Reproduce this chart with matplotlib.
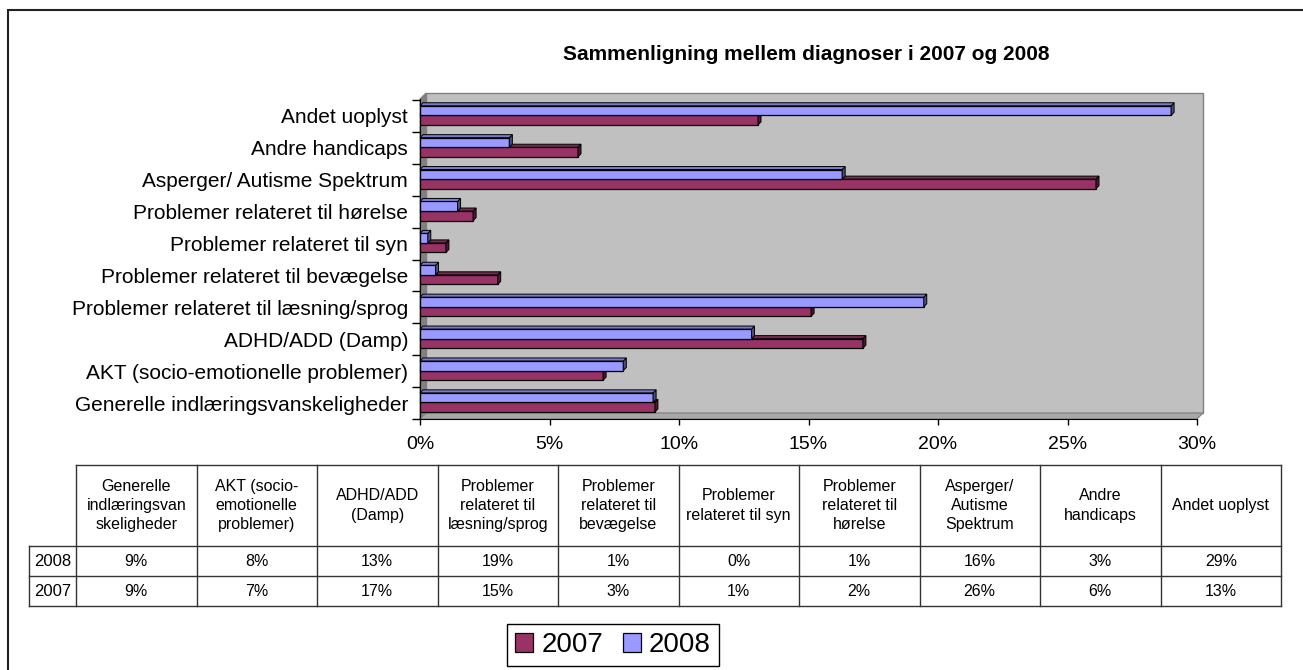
import numpy as np
import matplotlib
matplotlib.use("Agg")
import matplotlib.pyplot as plt
from matplotlib.patches import Polygon

plt.rcParams["font.family"] = ["Liberation Sans", "DejaVu Sans"]

# ================================
# DATA
# ================================

categories = [
    "Generelle indlæringsvanskeligheder",
    "AKT (socio-emotionelle problemer)",
    "ADHD/ADD (Damp)",
    "Problemer relateret til læsning/sprog",
    "Problemer relateret til bevægelse",
    "Problemer relateret til syn",
    "Problemer relateret til hørelse",
    "Asperger/ Autisme Spektrum",
    "Andre handicaps",
    "Andet uoplyst",
]

table_headers = [
    "Generelle\nindlæringsvan\nskeligheder",
    "AKT (socio-\nemotionelle\nproblemer)",
    "ADHD/ADD\n(Damp)",
    "Problemer\nrelateret til\nlæsning/sprog",
    "Problemer\nrelateret til\nbevægelse",
    "Problemer\nrelateret til syn",
    "Problemer\nrelateret til\nhørelse",
    "Asperger/\nAutisme\nSpektrum",
    "Andre\nhandicaps",
    "Andet uoplyst",
]

# percent values
share_2008 = [9.0, 7.85, 12.8, 19.45, 0.6, 0.3, 1.45, 16.3, 3.45, 29.0]
share_2007 = [9.07, 7.07, 17.1, 15.1, 3.0, 1.0, 2.05, 26.1, 6.1, 13.05]

# values printed in the data table
table_2008 = ["9%", "8%", "13%", "19%", "1%", "0%", "1%", "16%", "3%", "29%"]
table_2007 = ["9%", "7%", "17%", "15%", "3%", "1%", "2%", "26%", "6%", "13%"]

x_ticks = [0, 5, 10, 15, 20, 25, 30]

title = "Sammenligning mellem diagnoser i 2007 og 2008"

COL_2007 = "#993366"
COL_2008 = "#9999FF"

# ================================
# FIGURE / CANVAS
# ================================

W, H = 1303, 670
fig = plt.figure(figsize=(W / 100, H / 100), dpi=100)

canvas = fig.add_axes([0, 0, 1, 1])
canvas.set_xlim(0, W)
canvas.set_ylim(H, 0)
canvas.axis("off")

# outer frame (only left and top visible)
canvas.plot([8, 8, W + 5], [H + 5, 10, 10], color="#222222", lw=1.5, solid_joinstyle="miter")

canvas.text(806, 55, title, ha="center", va="center", fontsize=15, fontweight="bold")

# ================================
# CHART
# ================================

X0, X1, YB, YT = 420, 1197, 419, 93
ax = fig.add_axes([X0 / W, 1 - YB / H, (X1 - X0) / W, (YB - YT) / H])
ax.set_facecolor("none")

n = len(categories)
ax.set_xlim(0, 30)
top = n - 0.5 + 7 / 31.9
ax.set_ylim(-0.5, top)

# pseudo 3D walls
dxa = 6 / (X1 - X0)
dya = 6 / (YB - YT)
back = Polygon([(dxa, dya), (1 + dxa, dya), (1 + dxa, 1), (dxa, 1)], closed=True,
               transform=ax.transAxes, facecolor="#C0C0C0", edgecolor="#808080", lw=1,
               clip_on=False, zorder=0)
side = Polygon([(0, 0), (dxa, dya), (dxa, 1), (0, 1 - dya)], closed=True,
               transform=ax.transAxes, facecolor="#808080", edgecolor="#808080", lw=0.8,
               clip_on=False, zorder=0.5)
floor = Polygon([(0, 0), (1, 0), (1 + dxa, dya), (dxa, dya)], closed=True,
                transform=ax.transAxes, facecolor="#A8A8A8", edgecolor="#808080", lw=0.8,
                clip_on=False, zorder=0.5)
for p in (back, side, floor):
    ax.add_patch(p)

y = np.arange(n)
h = 0.3
ddx = 3 / 25.9
ddy = 3 / 31.9


def bar_3d(ax, ypos, vals, front, sidec, topc, z, label):
    bars = ax.barh(ypos, vals, height=h, color=front, edgecolor="black", lw=0.9,
                   zorder=z, label=label)
    for yc, v in zip(ypos, vals):
        yb, yt = yc - h / 2, yc + h / 2
        ax.add_patch(Polygon([(v, yb), (v + ddx, yb + ddy), (v + ddx, yt + ddy), (v, yt)],
                             closed=True, facecolor=sidec, edgecolor="black", lw=0.7,
                             zorder=z, clip_on=False))
        ax.add_patch(Polygon([(0, yt), (ddx, yt + ddy), (v + ddx, yt + ddy), (v, yt)],
                             closed=True, facecolor=topc, edgecolor="black", lw=0.7,
                             zorder=z, clip_on=False))
    return bars


b07 = bar_3d(ax, y - 0.13, share_2007, COL_2007, "#4C1933", "#7A2952", 3, "2007")
b08 = bar_3d(ax, y + 0.17, share_2008, COL_2008, "#4D4D80", "#7A7ACC", 4, "2008")

# axes styling
for s in ("top", "right"):
    ax.spines[s].set_visible(False)
ax.spines["left"].set_bounds(-0.5, top - 6 / 31.9)
ax.spines["bottom"].set_bounds(0, 30)
ax.spines["left"].set_zorder(6)
ax.spines["bottom"].set_zorder(6)

ax.set_yticks(np.arange(-0.5, n, 1.0))
ax.set_yticklabels([])
ax.set_yticks(y, labels=categories, minor=True)
ax.tick_params(axis="y", which="major", length=5.8, width=1, direction="out")
ax.tick_params(axis="y", which="minor", length=0, pad=8.6, labelsize=15)

ax.set_xticks(x_ticks, labels=[f"{t}%" for t in x_ticks])
ax.tick_params(axis="x", length=4.3, width=1, direction="out", pad=8, labelsize=14)

# ================================
# DATA TABLE
# ================================

tx0, tx_year, tx1 = 29, 76, 1281
ty = [465, 546, 576, 606]
col_w = (tx1 - tx_year) / len(table_headers)
col_edges = [tx_year + k * col_w for k in range(len(table_headers) + 1)]
lc = "#333333"

canvas.plot([tx_year, tx1], [ty[0], ty[0]], color=lc, lw=1)
for yy in ty[1:]:
    canvas.plot([tx0, tx1], [yy, yy], color=lc, lw=1)
canvas.plot([tx0, tx0], [ty[1], ty[3]], color=lc, lw=1)
for xe in col_edges:
    canvas.plot([xe, xe], [ty[0], ty[3]], color=lc, lw=1)

for k, head in enumerate(table_headers):
    cx = (col_edges[k] + col_edges[k + 1]) / 2
    canvas.text(cx, (ty[0] + ty[1]) / 2, head, ha="center", va="center",
                fontsize=11.5, linespacing=1.35)
    canvas.text(cx, (ty[1] + ty[2]) / 2, table_2008[k], ha="center", va="center", fontsize=11.5)
    canvas.text(cx, (ty[2] + ty[3]) / 2, table_2007[k], ha="center", va="center", fontsize=11.5)

canvas.text((tx0 + tx_year) / 2, (ty[1] + ty[2]) / 2, "2008", ha="center", va="center", fontsize=12)
canvas.text((tx0 + tx_year) / 2, (ty[2] + ty[3]) / 2, "2007", ha="center", va="center", fontsize=12)

# ================================
# LEGEND
# ================================

leg = fig.legend(handles=[b07, b08], labels=["2007", "2008"], loc="center",
                 bbox_to_anchor=(613 / W, 1 - 645 / H), ncol=2, fontsize=20,
                 frameon=True, fancybox=False, edgecolor="black", framealpha=1,
                 handlelength=0.65, handleheight=0.65, handletextpad=0.3,
                 columnspacing=0.7, borderpad=0.3, borderaxespad=0)
leg.get_frame().set_linewidth(1)

fig.savefig("out.png", dpi=100)
